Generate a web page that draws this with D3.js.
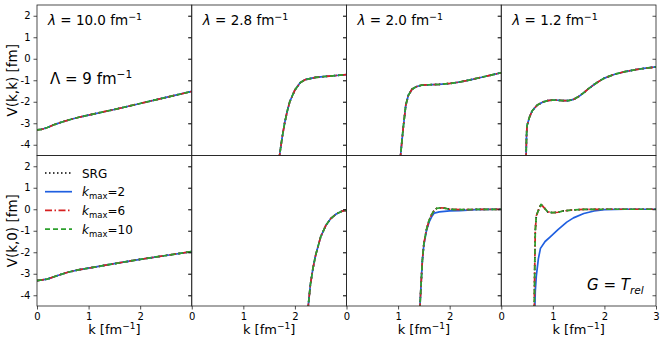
<!DOCTYPE html>
<html>
<head>
<meta charset="utf-8">
<script src="https://cdn.jsdelivr.net/npm/d3@7"></script>
<style>
    body { margin: 0; background: #fff; }
    text { font-family: 'DejaVu Sans', sans-serif; fill: #000; }
</style>
</head>
<body>
<div id="chart"></div>
<script>
// ---- data ----
const lambdas = ['10.0', '2.8', '2.0', '1.2'];
const xTickValues = [0, 1, 2, 3];
const yTickValues = [-4, -3, -2, -1, 0, 1, 2];
const seriesNames = ['SRG', 'kmax2', 'kmax6', 'kmax10'];
const kmaxValues = [2, 6, 10];

// V(k,k): all series lie on top of each other
const diagL10 = [[0, -3.31], [0.1, -3.28], [0.2, -3.2], [0.35, -3.05], [0.5, -2.93], [0.7, -2.79], [0.85, -2.7], [1.0, -2.62], [1.5, -2.36], [2.0, -2.08], [2.5, -1.8], [3.0, -1.52]];
const diagL28 = [[1.69, -4.7], [1.75, -3.7], [1.8, -3.0], [1.85, -2.45], [1.9, -2.0], [2.0, -1.45], [2.1, -1.12], [2.2, -0.97], [2.4, -0.87], [2.6, -0.82], [2.8, -0.78], [3.0, -0.74]];
const diagL20 = [[1.04, -4.7], [1.1, -3.2], [1.15, -2.15], [1.2, -1.7], [1.27, -1.42], [1.35, -1.3], [1.45, -1.23], [1.6, -1.21], [1.8, -1.19], [2.0, -1.15], [2.2, -1.08], [2.4, -0.98], [2.6, -0.87], [2.8, -0.76], [3.0, -0.65]];
const diagL12 = [[0.48, -4.7], [0.49, -3.6], [0.5, -3.1], [0.55, -2.7], [0.6, -2.42], [0.7, -2.15], [0.8, -2.02], [0.9, -1.95], [1.0, -1.92], [1.1, -1.93], [1.2, -1.95], [1.3, -1.95], [1.4, -1.89], [1.5, -1.76], [1.6, -1.58], [1.7, -1.38], [1.8, -1.2], [1.9, -1.04], [2.0, -0.9], [2.2, -0.72], [2.4, -0.6], [2.6, -0.51], [2.8, -0.44], [3.0, -0.38]];

// V(k,0): SRG, kmax=6 and kmax=10
const offL10 = [[0, -3.32], [0.2, -3.25], [0.4, -3.08], [0.6, -2.93], [0.8, -2.82], [1.0, -2.74], [1.5, -2.53], [2.0, -2.33], [2.5, -2.15], [3.0, -1.97]];
const offL28 = [[2.25, -4.7], [2.3, -3.5], [2.35, -2.75], [2.4, -2.15], [2.5, -1.28], [2.6, -0.75], [2.7, -0.42], [2.8, -0.22], [2.9, -0.1], [3.0, -0.04]];
const offL20 = [[1.42, -4.7], [1.45, -3.3], [1.47, -2.4], [1.5, -1.6], [1.55, -0.95], [1.6, -0.52], [1.65, -0.25], [1.7, -0.05], [1.75, 0.04], [1.82, 0.07], [1.9, 0.05], [2.0, 0.0], [2.2, -0.02], [2.5, -0.01], [3.0, 0.0]];
const offL12 = [[0.64, -4.7], [0.65, -2.5], [0.66, -1.0], [0.68, -0.3], [0.72, -0.05], [0.77, 0.23], [0.82, 0.1], [0.9, -0.12], [1.0, -0.16], [1.1, -0.14], [1.2, -0.08], [1.4, -0.03], [1.6, -0.01], [2.0, 0.0], [3.0, 0.0]];

// V(k,0): kmax=2 where it departs from the others
const offL20K2 = [[1.42, -4.7], [1.45, -3.3], [1.47, -2.4], [1.5, -1.65], [1.55, -1.0], [1.6, -0.6], [1.65, -0.35], [1.7, -0.18], [1.8, -0.12], [1.9, -0.1], [2.0, -0.08], [2.2, -0.06], [2.5, -0.02], [3.0, 0.0]];
const offL12K2 = [[0.65, -4.7], [0.66, -3.8], [0.68, -3.1], [0.72, -2.3], [0.76, -1.82], [0.85, -1.5], [0.95, -1.28], [1.1, -0.95], [1.27, -0.6], [1.4, -0.4], [1.6, -0.2], [1.8, -0.08], [2.0, -0.02], [2.4, 0.0], [3.0, 0.0]];

const diagRows = [diagL10, diagL28, diagL20, diagL12];
const offRows = [offL10, offL28, offL20, offL12];
const offK2Rows = [offL10, offL28, offL20K2, offL12K2];

// ---- layout / style ----
const size = {width: 664, height: 344, left: 37, right: 656, top: 5, bottom: 306};
const panelW = (size.right - size.left) / 4;
const panelH = (size.bottom - size.top) / 2;
const seriesStyle = {
    SRG: {color: '#000000', dash: '1.5,2.5', width: 1.7},
    kmax2: {color: '#1f5fe0', dash: null, width: 1.7},
    kmax6: {color: '#d62020', dash: '7,2.5,1.5,2.5', width: 1.7},
    kmax10: {color: '#2ca02c', dash: '5,3', width: 1.7}
};

const svg = d3.select('#chart')
    .append('svg')
    .attr('width', size.width)
    .attr('height', size.height)
    .attr('style', 'background-color: white');

const xScale = d3.scaleLinear().domain([0, 3]).range([0, panelW]);
const yScale = d3.scaleLinear().domain([-4.5, 2.5]).range([panelH, 0]);
const line = d3.line().x(d => xScale(d[0])).y(d => yScale(d[1]));

function seriesData(row, col, name) {
    if (row === 0) return diagRows[col];
    if (name === 'kmax2') return offK2Rows[col];
    return offRows[col];
}

// superscript / subscript helper, returns shift so the next tspan can come back
function addScript(textSel, str, shift, fontSize, italic) {
    textSel.append('tspan')
        .attr('dy', shift)
        .attr('font-size', fontSize)
        .attr('font-style', italic ? 'italic' : null)
        .text(str);
    return -shift;
}

function styleTicks(a) {
    a.select('.domain').remove();
    a.attr('font-family', 'DejaVu Sans').attr('font-size', 10);
    a.selectAll('line').attr('stroke', '#222').attr('stroke-width', 0.8);
}

for (let row = 0; row < 2; row++) {
    for (let col = 0; col < 4; col++) {
        const px = size.left + col * panelW;
        const py = size.top + row * panelH;
        const g = svg.append('g').attr('transform', `translate(${px},${py})`);
        const clipId = `clip-${row}-${col}`;
        g.append('clipPath').attr('id', clipId)
            .append('rect').attr('width', panelW).attr('height', panelH);

        const curves = g.append('g').attr('clip-path', `url(#${clipId})`);
        seriesNames.forEach(name => {
            const st = seriesStyle[name];
            curves.append('path')
                .datum(seriesData(row, col, name))
                .attr('d', line)
                .attr('fill', 'none')
                .attr('stroke', st.color)
                .attr('stroke-width', st.width)
                .attr('stroke-dasharray', st.dash)
                .attr('stroke-linejoin', 'round');
        });

        g.append('rect')
            .attr('width', panelW).attr('height', panelH)
            .attr('fill', 'none').attr('stroke', '#222').attr('stroke-width', 0.8);

        // y ticks: outward on left, inward on right
        const yAxis = d3.axisLeft(yScale).tickValues(yTickValues).tickSize(3.5).tickPadding(3);
        if (col === 0) yAxis.tickFormat(d => d);
        else yAxis.tickFormat('');
        const ya = g.append('g').call(yAxis).call(styleTicks);
        if (col !== 0) ya.selectAll('text').remove();
        g.append('g').attr('transform', `translate(${panelW},0)`)
            .call(d3.axisLeft(yScale).tickValues(yTickValues).tickSize(3.5).tickFormat(''))
            .call(styleTicks)
            .call(a => a.selectAll('text').remove());

        if (row === 1) {
            const labels = col === 3 ? xTickValues : xTickValues.slice(0, 3);
            g.append('g').attr('transform', `translate(0,${panelH})`)
                .call(d3.axisBottom(xScale).tickValues(labels).tickSize(3.5).tickPadding(3).tickFormat(d => d))
                .call(styleTicks);

            const xl = svg.append('text')
                .attr('x', px + panelW / 2).attr('y', 334)
                .attr('text-anchor', 'middle').attr('font-size', 13)
                .text('k [fm');
            const back = addScript(xl, '\u22121', -5, 9, false);
            xl.append('tspan').attr('dy', back).text(']');
        } else {
            const tl = svg.append('text')
                .attr('x', px + 11).attr('y', 25).attr('font-size', 13.5);
            tl.append('tspan').attr('font-style', 'italic').text('\u03bb');
            tl.append('tspan').text(` = ${lambdas[col]} fm`);
            addScript(tl, '\u22121', -5.5, 9.5, false);
        }
    }
}

// y axis labels
['V(k,k) [fm]', 'V(k,0) [fm]'].forEach((lbl, i) => {
    svg.append('text')
        .attr('transform', `translate(17,${size.top + panelH * (i + 0.5)}) rotate(-90)`)
        .attr('text-anchor', 'middle').attr('font-size', 13.5)
        .text(lbl);
});

// Lambda cutoff annotation
const cut = svg.append('text').attr('x', 50).attr('y', 84).attr('font-size', 15);
cut.append('tspan').text('\u039b = 9 fm');
addScript(cut, '\u22121', -6, 10.5, false);

// G = T_rel annotation
const gt = svg.append('text').attr('x', 587).attr('y', 290).attr('font-size', 15);
gt.append('tspan').attr('font-style', 'italic').text('G');
gt.append('tspan').text(' = ');
gt.append('tspan').attr('font-style', 'italic').text('T');
addScript(gt, 'rel', 3.5, 10.5, true);

// legend
const legend = svg.append('g').attr('transform', `translate(45,${size.top + panelH + 17.5})`);
seriesNames.forEach((name, i) => {
    const st = seriesStyle[name];
    const y = i * 18.7;
    legend.append('line')
        .attr('x1', 0).attr('x2', 27).attr('y1', y).attr('y2', y)
        .attr('stroke', st.color).attr('stroke-width', st.width)
        .attr('stroke-dasharray', st.dash);
    const t = legend.append('text').attr('x', 37).attr('y', y + 4.5).attr('font-size', 12);
    if (i === 0) {
        t.text('SRG');
    } else {
        t.append('tspan').attr('font-style', 'italic').text('k');
        const back = addScript(t, 'max', 3, 8.5, false);
        t.append('tspan').attr('dy', back).text('=' + kmaxValues[i - 1]);
    }
});
</script>
</body>
</html>
